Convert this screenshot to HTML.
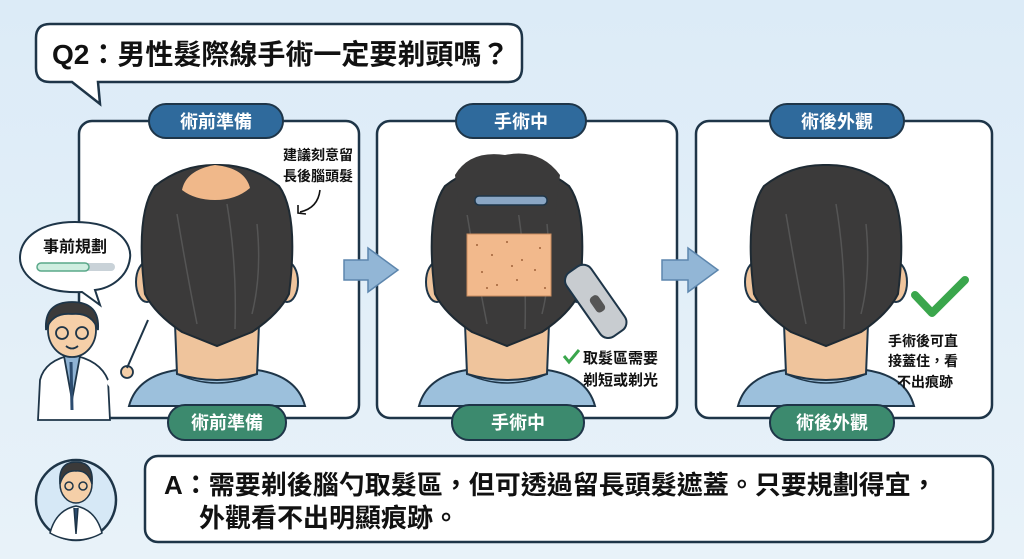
<!DOCTYPE html>
<html><head><meta charset="utf-8"><style>
html,body{margin:0;padding:0;width:1024px;height:559px;overflow:hidden;background:#e3eff8;}
svg{display:block}
text{font-family:"Liberation Sans","Noto Sans CJK TC",sans-serif;font-weight:bold;}
</style></head><body>
<svg width="1024" height="559" viewBox="0 0 1024 559" xmlns="http://www.w3.org/2000/svg">
<defs>
<linearGradient id="bg" x1="0" y1="0" x2="0" y2="1"><stop offset="0" stop-color="#dcebf7"/><stop offset="1" stop-color="#e8f2f9"/></linearGradient>
<g id="head">
  <path d="M-88,392 Q-80,362 -40,356 L40,356 Q80,362 88,392 Z" fill="#9cc0dc" stroke="#1e3548" stroke-width="2"/>
  <path d="M-40,360 Q0,378 40,360" fill="none" stroke="#1e3548" stroke-width="1.5"/>
  <path d="M-44,260 L-40,360 Q0,372 40,360 L44,260 Z" fill="#efc49c" stroke="#1e3548" stroke-width="2"/>
  <ellipse cx="-70" cy="268" rx="11" ry="20" fill="#efc49c" stroke="#1e3548" stroke-width="2"/>
  <ellipse cx="70" cy="268" rx="11" ry="20" fill="#efc49c" stroke="#1e3548" stroke-width="2"/>
  <path d="M-72,280 Q-82,200 -62,172 Q-34,150 0,151 Q34,150 62,172 Q82,200 72,280 Q62,300 35,318 L0,332 L-35,318 Q-62,300 -72,280 Z" fill="#3b3a3a" stroke="#1e2a33" stroke-width="2"/>
  <path d="M-40,200 Q-30,260 -20,310 M10,190 Q20,250 18,315 M40,210 Q45,260 35,300" stroke="#555" stroke-width="1.5" fill="none"/>
</g>
</defs>
<rect width="1024" height="559" fill="url(#bg)"/>

<path d="M50,24 H508 Q522,24 522,38 V68 Q522,82 508,82 H98 L100,104 L72,82 H50 Q36,82 36,68 V38 Q36,24 50,24 Z" fill="#fff" stroke="#1e3548" stroke-width="2.5"/>
<text x="52" y="64" font-size="28" fill="#111">Q2：男性髮際線手術一定要剃頭嗎？</text>

<rect x="79" y="121" width="280" height="297" rx="13" fill="#fff" stroke="#1e3548" stroke-width="2.5"/>
<rect x="377" y="121" width="300" height="297" rx="13" fill="#fff" stroke="#1e3548" stroke-width="2.5"/>
<rect x="696" y="121" width="296" height="297" rx="13" fill="#fff" stroke="#1e3548" stroke-width="2.5"/>

<use href="#head" transform="translate(217,14)"/>
<use href="#head" transform="translate(507,14)"/>
<use href="#head" transform="translate(826,14)"/>
<path d="M182,190 Q186,170 215,165 Q245,168 250,188 Q236,200 215,200 Q195,200 182,190 Z" fill="#f0b88a"/>
<path d="M455,175 Q470,150 505,155 Q540,148 560,175 L555,215 L460,215 Z" fill="#3b3a3a"/>
<rect x="467" y="234" width="84" height="62" fill="#f2b98c" stroke="#c98c5e" stroke-width="1"/>
<g fill="#a0623a">
<circle cx="477" cy="245" r="1"/><circle cx="492" cy="255" r="1"/><circle cx="507" cy="242" r="1"/><circle cx="522" cy="260" r="1"/><circle cx="540" cy="248" r="1"/><circle cx="482" cy="272" r="1"/><circle cx="497" cy="285" r="1"/><circle cx="517" cy="280" r="1"/><circle cx="535" cy="270" r="1"/><circle cx="545" cy="288" r="1"/><circle cx="487" cy="288" r="1"/><circle cx="512" cy="266" r="1"/></g>
<rect x="475" y="196" width="72" height="9" rx="4" fill="#8aa6c4" stroke="#1e3548" stroke-width="1.5"/>
<g transform="rotate(-35 596 300)"><rect x="580" y="262" width="30" height="78" rx="10" fill="#c8ccd0" stroke="#1e3548" stroke-width="2"/><rect x="590" y="295" width="10" height="18" rx="4" fill="#555"/></g>
<text x="283" y="160" font-size="14" fill="#111">建議刻意留</text>
<text x="283" y="181" font-size="14" fill="#111">長後腦頭髮</text>
<path d="M320,190 Q318,208 300,212" fill="none" stroke="#111" stroke-width="1.6"/>
<path d="M298,205 L298,213 L306,214" fill="none" stroke="#111" stroke-width="1.6"/>
<path d="M564,356 L569,362 L579,350" stroke="#3aa64c" stroke-width="3" fill="none"/>
<text x="583" y="363" font-size="15" fill="#111">取髮區需要</text>
<text x="583" y="385" font-size="15" fill="#111">剃短或剃光</text>
<path d="M915,295 L932,313 L965,280" stroke="#3aa64c" stroke-width="8" fill="none" stroke-linecap="round" stroke-linejoin="round"/>
<text x="888" y="346" font-size="14" fill="#111">手術後可直</text>
<text x="888" y="366" font-size="14" fill="#111">接蓋住，看</text>
<text x="897" y="387" font-size="14" fill="#111">不出痕跡</text>

<path d="M344,260 H368 V248 L398,270 L368,292 V280 H344 Z" fill="#92b6d6" stroke="#5d86ad" stroke-width="1.5"/>
<path d="M662,260 H688 V248 L718,270 L688,292 V280 H662 Z" fill="#92b6d6" stroke="#5d86ad" stroke-width="1.5"/>

<g font-size="18" fill="#fff" text-anchor="middle">
<rect x="149" y="104" width="134" height="34" rx="17" fill="#2f6a9c" stroke="#1e3548" stroke-width="2"/><text x="216" y="128">術前準備</text>
<rect x="456" y="104" width="130" height="34" rx="17" fill="#2f6a9c" stroke="#1e3548" stroke-width="2"/><text x="521" y="128">手術中</text>
<rect x="770" y="104" width="134" height="34" rx="17" fill="#2f6a9c" stroke="#1e3548" stroke-width="2"/><text x="837" y="128">術後外觀</text>
<rect x="168" y="405" width="118" height="35" rx="17" fill="#3c8a6e" stroke="#1e3548" stroke-width="2"/><text x="227" y="429">術前準備</text>
<rect x="452" y="405" width="132" height="35" rx="17" fill="#3c8a6e" stroke="#1e3548" stroke-width="2"/><text x="518" y="429">手術中</text>
<rect x="770" y="405" width="124" height="35" rx="17" fill="#3c8a6e" stroke="#1e3548" stroke-width="2"/><text x="832" y="429">術後外觀</text>
</g>

<path d="M75,222 C120,222 132,245 130,258 C128,276 112,288 95,290 L100,305 L82,292 C40,294 20,275 20,258 C20,238 40,222 75,222 Z" fill="#fff" stroke="#1e3548" stroke-width="2"/>
<text x="75" y="252" font-size="16" fill="#111" text-anchor="middle">事前規劃</text>
<rect x="37" y="263" width="78" height="8" rx="4" fill="#c9d2d8"/>
<rect x="37" y="263" width="52" height="8" rx="4" fill="#cfeee0" stroke="#5aa889" stroke-width="1.5"/>

<g stroke="#1e3548" stroke-width="1.8">
<path d="M38,420 L40,380 Q45,360 72,355 Q100,360 108,380 L110,420 Z" fill="#fff"/>
<path d="M64,356 L72,400 L80,356 Z" fill="#8fb3d4"/>
<path d="M71,362 L72,410" stroke="#2c4c70" stroke-width="3"/>
<ellipse cx="72" cy="330" rx="24" ry="27" fill="#f5cfa8"/>
<path d="M46,330 Q44,302 72,302 Q100,302 98,330 Q92,312 72,314 Q52,312 46,330 Z" fill="#3b3a3a"/>
<circle cx="62" cy="333" r="6" fill="none"/><circle cx="82" cy="333" r="6" fill="none"/>
<path d="M66,346 Q72,351 78,346" fill="none"/>
<path d="M108,385 L125,372" stroke-width="8" stroke="#fff"/>
<circle cx="127" cy="372" r="6" fill="#f5cfa8"/>
<path d="M127,368 L148,320" stroke-width="2"/>
</g>

<circle cx="76" cy="500" r="40" fill="#d6e8f6" stroke="#1e3548" stroke-width="2.5"/>
<g stroke="#1e3548" stroke-width="1.5">
<path d="M50,533 Q56,510 76,506 Q96,510 102,533 Q90,540 76,540 Q62,540 50,533 Z" fill="#fff"/>
<path d="M74,508 L76,534 L78,508" fill="#2c4c70"/>
<ellipse cx="76" cy="484" rx="16" ry="19" fill="#f5cfa8"/>
<path d="M60,484 Q58,462 76,462 Q94,462 92,484 Q88,470 76,471 Q64,470 60,484 Z" fill="#3b3a3a"/>
<circle cx="69" cy="486" r="4" fill="none"/><circle cx="83" cy="486" r="4" fill="none"/>
</g>
<rect x="145" y="456" width="848" height="86" rx="13" fill="#fff" stroke="#1e3548" stroke-width="2.5"/>
<text x="164" y="494" font-size="26" fill="#111">A：需要剃後腦勺取髮區，但可透過留長頭髮遮蓋。只要規劃得宜，</text>
<text x="199" y="527" font-size="26" fill="#111">外觀看不出明顯痕跡。</text>
</svg>
</body></html>
